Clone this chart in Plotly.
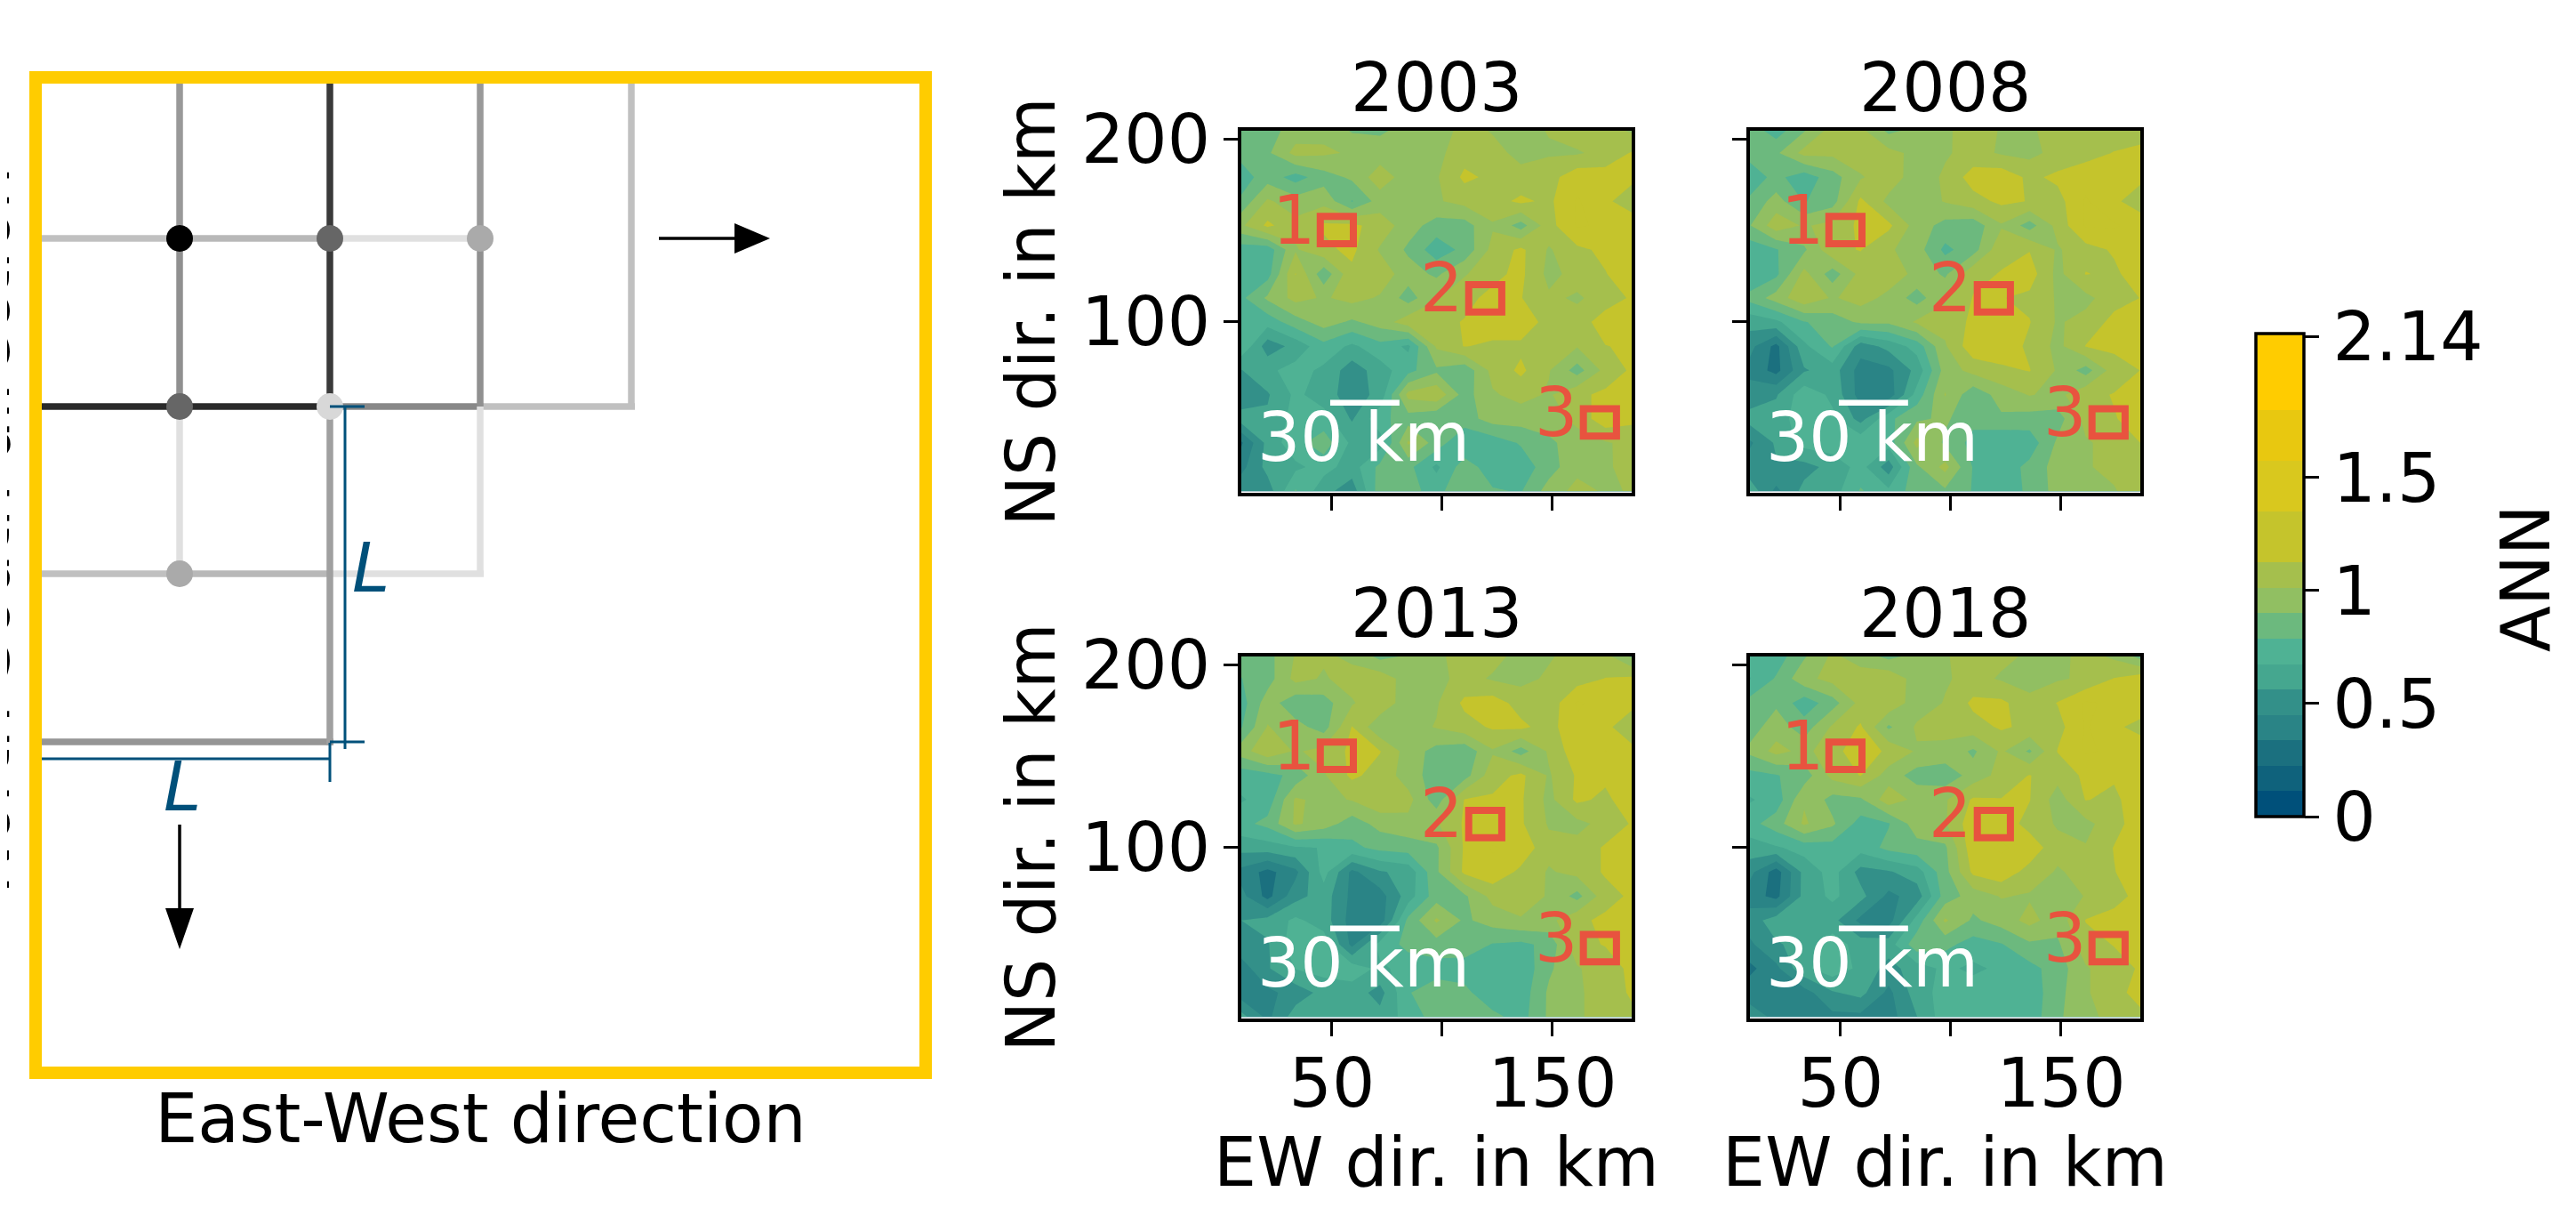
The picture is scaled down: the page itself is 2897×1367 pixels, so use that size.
import plotly.graph_objects as go
from plotly.subplots import make_subplots

W, H = 2897, 1367
FONT = "DejaVu Sans"
FS = 76
PAGE_MARGIN = 8  # the page body adds this much on the top and left

# EW and NS sample positions in km
x_km = [8.0, 20.8, 33.5, 46.3, 59.1, 71.8, 84.6, 97.4, 110.1, 122.9, 135.7, 148.4, 161.2, 174.0, 186.7]
y_km = [205.4, 192.2, 178.9, 165.7, 152.4, 139.2, 125.9, 112.7, 99.5, 86.2, 73.0, 59.7, 46.5, 33.3, 20.0, 6.8]

# ANN values, top row first
ann_2003 = [
    [.82, .85, .95, .98, .88, .88, .93, .95, 1.05, 1.0, .98, 1.02, 1.08, 1.05, .98],
    [.82, .88, 1.05, 1.03, 1.0, .95, .95, .98, 1.08, 1.05, .98, 1.0, 1.0, 1.05, 1.14],
    [.72, .85, .74, .85, .92, 1.08, .95, 1.0, 1.15, 1.1, 1.05, 1.08, 1.2, 1.18, 1.15],
    [.8, 1.03, .95, .98, .78, .95, .98, 1.0, 1.05, 1.08, 1.15, 1.1, 1.25, 1.15, 1.05],
    [.98, 1.15, 1.05, 1.14, 1.15, 1.08, .95, .85, .85, 1.0, .85, 1.08, 1.25, 1.22, 1.2],
    [.73, .72, 1.0, 1.1, 1.15, 1.0, .88, .72, .82, 1.05, 1.15, 1.0, 1.1, 1.15, 1.2],
    [.72, .74, 1.13, .82, 1.1, 1.08, .95, .88, 1.0, 1.1, 1.15, .98, 1.05, 1.12, 1.2],
    [.75, .92, 1.05, 1.0, 1.05, 1.0, .85, 1.0, 1.1, 1.15, 1.13, 1.03, 1.0, 1.05, 1.15],
    [.7, .72, .85, .95, .88, .95, 1.08, 1.1, 1.13, 1.2, 1.2, 1.08, 1.05, 1.2, 1.18],
    [.8, .5, .6, .75, .65, .75, .65, 1.03, 1.13, 1.1, 1.1, 1.05, 1.02, 1.12, 1.15],
    [.55, .65, .72, .65, .5, .62, .75, .88, .82, 1.05, 1.15, 1.02, .85, 1.05, 1.15],
    [.5, .55, .7, .62, .5, .6, 1.05, 1.1, .85, 1.0, 1.05, 1.0, 1.1, 1.15, 1.13],
    [.6, .58, .72, .72, .55, .75, .85, .8, .85, .95, .95, .95, 1.05, 1.2, 1.15],
    [.3, .6, .75, .85, .65, .62, 1.03, .85, .68, .72, .8, .88, .95, 1.0, 1.05],
    [.4, .6, .65, .72, .62, .82, .82, .65, .85, .72, .72, .85, .98, .98, 1.1],
    [.52, .5, .8, .6, .5, .85, .82, .75, .88, .8, .78, .95, 1.05, 1.0, 1.02],
]
ann_2008 = [
    [.85, .72, .88, 1.05, 1.03, .86, .92, .98, 1.1, 1.0, 1.0, 1.05, 1.1, 1.06, 1.0],
    [.82, .88, 1.05, 1.04, 1.08, 1.05, .98, 1.0, 1.05, 1.0, .98, 1.05, 1.08, 1.13, 1.2],
    [.72, .82, .72, .85, 1.0, 1.08, .95, 1.03, 1.18, 1.2, 1.1, 1.15, 1.2, 1.22, 1.15],
    [.8, .95, .78, .85, 1.15, .98, .95, 1.02, 1.08, 1.15, 1.12, 1.08, 1.25, 1.15, 1.05],
    [.88, 1.08, 1.0, 1.05, 1.15, 1.15, .96, .86, .83, 1.0, .85, 1.05, 1.25, 1.25, 1.2],
    [.72, .78, .88, 1.1, 1.13, 1.03, .95, .76, .85, 1.1, 1.12, 1.0, 1.08, 1.14, 1.2],
    [.68, .76, 1.05, .84, 1.05, 1.08, .98, .88, 1.1, 1.13, 1.18, .98, 1.13, 1.1, 1.2],
    [.82, .95, 1.1, 1.0, 1.06, .98, .85, 1.0, 1.13, 1.13, 1.1, 1.0, .98, 1.08, 1.13],
    [.6, .65, .78, .84, .92, .92, 1.03, 1.05, 1.15, 1.2, 1.13, 1.0, 1.05, 1.16, 1.18],
    [.5, .3, .65, .8, .5, .6, .72, 1.0, 1.2, 1.2, 1.1, .98, 1.13, 1.15, 1.15],
    [.42, .3, .55, .62, .4, .42, .6, .95, 1.05, 1.1, 1.13, 1.0, .85, 1.07, 1.13],
    [.5, .55, .75, .65, .4, .38, .72, 1.02, .82, .95, 1.02, .98, 1.1, 1.13, 1.15],
    [.6, .62, .74, .7, .52, .76, .88, .92, .82, .88, .85, .85, 1.05, 1.12, 1.16],
    [.42, .58, .72, .74, .76, .72, 1.05, .88, .75, .68, .72, .92, 1.0, 1.05, 1.13],
    [.5, .55, .52, .6, .72, .5, .88, 1.05, .78, .72, .82, .95, 1.0, 1.05, 1.13],
    [.65, .42, .6, .62, .8, .7, .85, .88, .78, .75, .8, .95, .98, 1.0, 1.1],
]
ann_2013 = [
    [.82, .86, 1.02, 1.03, .98, .85, .9, .98, 1.08, 1.05, .98, 1.0, 1.05, 1.03, .85],
    [.78, .85, 1.05, 1.0, 1.06, 1.08, .96, .98, 1.05, 1.0, .98, 1.03, 1.07, 1.13, 1.15],
    [.72, .96, .82, .85, 1.0, 1.1, .94, 1.0, 1.15, 1.18, 1.08, 1.05, 1.25, 1.2, 1.15],
    [.76, 1.02, .94, .85, 1.13, .92, .97, 1.02, 1.08, 1.14, 1.15, 1.08, 1.22, 1.15, 1.05],
    [.95, 1.1, 1.0, 1.05, 1.15, 1.13, .96, .86, .82, 1.0, .85, 1.03, 1.2, 1.24, 1.15],
    [.72, .75, .82, 1.0, 1.15, 1.08, .96, .84, .85, 1.08, 1.15, 1.0, 1.14, 1.15, 1.2],
    [.66, .72, 1.03, .98, 1.02, 1.1, 1.05, .84, 1.13, 1.14, 1.14, .98, 1.15, 1.1, 1.2],
    [.75, .82, 1.03, .96, .84, .94, .98, 1.0, 1.14, 1.13, 1.14, 1.0, .98, 1.05, 1.14],
    [.6, .62, .66, .68, .76, .82, .84, .88, 1.14, 1.25, 1.2, 1.05, 1.05, 1.14, 1.2],
    [.42, .3, .42, .72, .42, .55, .6, .88, 1.15, 1.2, 1.1, 1.0, 1.05, 1.14, 1.2],
    [.5, .3, .52, .62, .42, .4, .62, .85, .88, 1.05, 1.08, 1.0, .86, 1.08, 1.15],
    [.56, .6, .7, .62, .4, .38, .82, 1.03, .88, .95, 1.0, .98, 1.1, 1.15, 1.17],
    [.52, .55, .75, .74, .42, .72, .82, .85, .86, .78, .76, .82, 1.1, 1.13, 1.2],
    [.38, .55, .68, .72, .74, .65, .72, .74, .73, .7, .7, .88, 1.0, 1.08, 1.15],
    [.4, .42, .5, .6, .62, .52, .78, .85, .82, .7, .72, .92, 1.0, 1.05, 1.15],
    [.62, .42, .62, .66, .62, .6, .72, .84, .85, .82, .74, .92, 1.0, 1.05, 1.1],
]
ann_2018 = [
    [.72, .72, .88, 1.03, .94, .85, .92, 1.0, 1.08, 1.04, 1.0, .98, 1.05, .98, .82],
    [.66, .8, .98, 1.05, 1.08, 1.1, .96, 1.0, 1.05, 1.0, .96, 1.0, 1.03, 1.13, 1.2],
    [.82, .88, .72, .85, 1.05, 1.1, .95, 1.02, 1.15, 1.15, 1.05, 1.13, 1.25, 1.22, 1.2],
    [.84, .96, .84, 1.03, 1.14, .88, 1.03, 1.05, 1.08, 1.14, 1.1, 1.08, 1.25, 1.15, 1.08],
    [.92, 1.05, .98, 1.08, 1.2, 1.1, 1.0, .98, .88, 1.03, .88, 1.13, 1.25, 1.22, 1.2],
    [.75, .78, .84, 1.05, 1.13, .96, .85, .82, .95, 1.05, 1.13, 1.05, 1.15, 1.14, 1.22],
    [.66, .72, 1.0, .86, .88, 1.08, .98, 1.0, 1.14, 1.13, 1.13, .96, 1.13, 1.1, 1.2],
    [.74, .85, 1.03, .92, .74, .78, .96, 1.0, 1.2, 1.2, 1.08, 1.0, .98, 1.08, 1.2],
    [.62, .66, .72, .74, .72, .82, .86, .88, 1.2, 1.25, 1.2, 1.05, 1.02, 1.13, 1.2],
    [.5, .28, .6, .72, .52, .55, .62, .86, 1.15, 1.2, 1.08, 1.0, 1.05, 1.12, 1.2],
    [.4, .3, .6, .7, .6, .42, .5, .84, .95, 1.02, 1.0, .94, 1.02, 1.1, 1.15],
    [.5, .62, .66, .6, .42, .4, .72, 1.03, .88, .95, 1.05, .95, 1.13, 1.15, 1.15],
    [.42, .55, .6, .74, .62, .62, .86, .82, .74, .78, .88, .88, 1.08, 1.13, 1.15],
    [.3, .42, .65, .74, .65, .52, .62, .7, .65, .7, .75, .84, 1.0, 1.08, 1.14],
    [.4, .42, .4, .55, .6, .42, .62, .72, .74, .7, .72, .86, 1.0, 1.08, 1.18],
    [.52, .42, .4, .42, .42, .4, .56, .74, .76, .72, .72, .88, .98, 1.05, 1.1],
]
years = ["2003", "2008", "2013", "2018"]
maps = [ann_2003, ann_2008, ann_2013, ann_2018]

# colour steps of the bar: colour, number of 0.1125 wide levels it covers
band_colors = ["#00507a", "#0f627c", "#1b707f", "#2a8486", "#339089", "#45a78f", "#4fb294",
               "#6cb97e", "#91bf62", "#a5bf4d", "#c5c42c", "#d9c81e", "#e8c810", "#ffcc00"]
band_levels = [1, 1, 1, 1, 1, 1, 1, 1, 1, 1, 2, 2, 2, 3]
level_size = 0.1125
n_levels = sum(band_levels)

colorscale = []
done = 0
for c, n in zip(band_colors, band_levels):
    colorscale.append([done / n_levels, c])
    done += n
    colorscale.append([done / n_levels, c])

# numbered sites: centre in km
site_labels = ["1", "2", "3"]
site_x = [52.2, 119.5, 171.5]
site_y = [150.0, 112.5, 44.5]
site_half = 7.5
label_x = [32.7, 99.6, 151.6]
label_y = [155.6, 118.5, 50.2]
RED = "#e8533f"

# scale bar
bar_x = [49.2, 80.6]
bar_y = 55.3

# panel areas in page pixels, inside the frame lines: left, right, top, bottom
left_cols = [(1396, 1835), (1968, 2407)]
rows_px = [(147, 554), (738, 1145)]


def dom_x(a, b):
    return [(a - PAGE_MARGIN) / W, (b - PAGE_MARGIN) / W]


def dom_y(a, b):
    return [1 - (b - PAGE_MARGIN) / H, 1 - (a - PAGE_MARGIN) / H]


fig = make_subplots(rows=2, cols=2)

for i, (year, z) in enumerate(zip(years, maps)):
    r, c = i // 2 + 1, i % 2 + 1
    fig.add_trace(
        go.Contour(
            x=x_km,
            y=y_km[::-1],
            z=z[::-1],
            zmin=0,
            zmax=level_size * n_levels,
            autocontour=False,
            contours=dict(start=0, end=level_size * n_levels, size=level_size,
                          coloring="fill", showlines=False),
            line=dict(width=0, smoothing=0),
            colorscale=colorscale,
            showscale=(i == 0),
            colorbar=dict(
                x=(2537 - PAGE_MARGIN) / W, xanchor="left",
                y=1 - (375 - PAGE_MARGIN) / H, yanchor="top",
                xpad=0, ypad=0,
                thicknessmode="pixels", thickness=54,
                lenmode="pixels", len=543,
                outlinecolor="black", outlinewidth=3.5,
                tickmode="array",
                tickvals=[0, 0.5, 1, 1.5, 2.125],
                ticktext=["0", "0.5", "1", "1.5", "2.14"],
                ticks="outside", ticklen=16, tickwidth=3, tickcolor="black",
                tickfont=dict(family=FONT, size=FS, color="black"),
            ),
        ),
        row=r, col=c,
    )

    xname = "x" if i == 0 else f"x{i + 1}"
    yname = "y" if i == 0 else f"y{i + 1}"

    # site boxes and scale bar
    for sx, sy in zip(site_x, site_y):
        fig.add_shape(type="rect", xref=xname, yref=yname,
                      x0=sx - site_half, x1=sx + site_half,
                      y0=sy - site_half, y1=sy + site_half,
                      line=dict(color=RED, width=8))
    fig.add_shape(type="line", xref=xname, yref=yname,
                  x0=bar_x[0], x1=bar_x[1], y0=bar_y, y1=bar_y,
                  line=dict(color="white", width=6.5))

    for t, lx, ly in zip(site_labels, label_x, label_y):
        fig.add_annotation(xref=xname, yref=yname, x=lx, y=ly, text=t, showarrow=False,
                           font=dict(family=FONT, size=FS, color=RED))
    fig.add_annotation(xref=xname, yref=yname, x=64.5, y=36.6, text="30 km", showarrow=False,
                       font=dict(family=FONT, size=FS, color="white"))

    # year above the panel
    fig.add_annotation(xref=xname + " domain", yref=yname + " domain", x=0.5, y=1,
                       yanchor="bottom", yshift=2, text=year, showarrow=False,
                       font=dict(family=FONT, size=FS, color="black"))

    fig.update_xaxes(
        domain=dom_x(*left_cols[c - 1]), range=[8.9, 185.9], automargin=False,
        tickmode="array", tickvals=[50, 100, 150],
        ticktext=["50", "", "150"] if r == 2 else ["", "", ""],
        ticks="outside", ticklen=16, tickwidth=3, tickcolor="black",
        tickfont=dict(family=FONT, size=FS, color="black"),
        ticklabelstandoff=-12,
        showgrid=False, zeroline=False, showline=True, mirror=True,
        linecolor="black", linewidth=3.5,
        title=dict(text="EW dir. in km" if r == 2 else "",
                   font=dict(family=FONT, size=FS, color="black"), standoff=0),
        row=r, col=c,
    )
    fig.update_yaxes(
        domain=dom_y(*rows_px[r - 1]), range=[5.9, 204.4], automargin=False,
        tickmode="array", tickvals=[100, 200],
        ticktext=["100", "200"] if c == 1 else ["", ""],
        ticks="outside", ticklen=16, tickwidth=3, tickcolor="black",
        tickfont=dict(family=FONT, size=FS, color="black"),
        showgrid=False, zeroline=False, showline=True, mirror=True,
        linecolor="black", linewidth=3.5,
        title=dict(text="NS dir. in km" if c == 1 else "",
                   font=dict(family=FONT, size=FS, color="black"), standoff=5),
        row=r, col=c,
    )

# schematic of the gliding windows, in page pixels from the box corner
seg_h = [
    (181, 7, 162, "#c0c0c0"), (181, 162, 331, "#b8b8b8"), (181, 331, 500, "#e0e0e0"),
    (370, 7, 162, "#2a2a2a"), (370, 162, 331, "#2a2a2a"), (370, 331, 500, "#888888"), (370, 500, 674, "#c0c0c0"),
    (558, 7, 162, "#c0c0c0"), (558, 162, 331, "#b8b8b8"), (558, 331, 504, "#e0e0e0"),
    (747, 7, 335, "#959595"),
]
seg_v = [
    (162, 7, 181, "#999999"), (162, 181, 370, "#909090"), (162, 370, 558, "#e0e0e0"),
    (331, 7, 181, "#3a3a3a"), (331, 181, 370, "#3a3a3a"), (331, 370, 751, "#a0a0a0"),
    (500, 7, 181, "#999999"), (500, 181, 370, "#909090"), (500, 370, 558, "#e0e0e0"),
    (670, 7, 370, "#c0c0c0"),
]
dot_x = [162, 331, 500, 162, 331, 162]
dot_y = [181, 181, 181, 370, 370, 558]
dot_colors = ["#000000", "#666666", "#aaaaaa", "#666666", "#d8d8d8", "#aaaaaa"]

arrow_right_x = [786, 786, 826, 786]
arrow_right_y = [164, 198, 181, 164]
arrow_down_x = [146, 178, 162, 146]
arrow_down_y = [934, 934, 980, 934]

BLUE = "#00507a"
dim_x = [348, 348, None, 331, 370, None, 331, 370, None, 0, 331, None, 0, 0, None, 331, 331]
dim_y = [370, 755, None, 370, 370, None, 747, 747, None, 766, 766, None, 746, 792, None, 748, 792]

SX, SY = "x5", "y5"
for y, a, b, col in seg_h:
    fig.add_trace(go.Scatter(x=[a, b], y=[y, y], mode="lines", line=dict(color=col, width=7.5),
                             xaxis=SX, yaxis=SY, showlegend=False, hoverinfo="skip"))
for x, a, b, col in seg_v:
    fig.add_trace(go.Scatter(x=[x, x], y=[a, b], mode="lines", line=dict(color=col, width=7.5),
                             xaxis=SX, yaxis=SY, showlegend=False, hoverinfo="skip"))
fig.add_trace(go.Scatter(x=dot_x, y=dot_y, mode="markers",
                         marker=dict(size=30, color=dot_colors, line=dict(width=0)),
                         xaxis=SX, yaxis=SY, showlegend=False, hoverinfo="skip"))

# black arrows
fig.add_trace(go.Scatter(x=[701, 790], y=[181, 181], mode="lines", line=dict(color="black", width=3.5),
                         xaxis=SX, yaxis=SY, showlegend=False, hoverinfo="skip"))
fig.add_trace(go.Scatter(x=[162, 162], y=[840, 938], mode="lines", line=dict(color="black", width=3.5),
                         xaxis=SX, yaxis=SY, showlegend=False, hoverinfo="skip"))
for ax, ay in [(arrow_right_x, arrow_right_y), (arrow_down_x, arrow_down_y)]:
    fig.add_trace(go.Scatter(x=ax, y=ay, mode="lines", fill="toself", fillcolor="black",
                             line=dict(color="black", width=0),
                             xaxis=SX, yaxis=SY, showlegend=False, hoverinfo="skip"))

# blue dimension lines
fig.add_trace(go.Scatter(x=dim_x, y=dim_y, mode="lines", line=dict(color=BLUE, width=3),
                         xaxis=SX, yaxis=SY, showlegend=False, hoverinfo="skip", cliponaxis=False))
fig.add_annotation(xref=SX, yref=SY, x=377, y=551, text="<i>L</i>", showarrow=False,
                   font=dict(family=FONT, size=FS, color=BLUE))
fig.add_annotation(xref=SX, yref=SY, x=165, y=797, text="<i>L</i>", showarrow=False,
                   font=dict(family=FONT, size=FS, color=BLUE))

fig.update_layout(
    xaxis5=dict(domain=dom_x(47, 1034), range=[7, 994], anchor="y5", layer="below traces", automargin=False,
                showline=True, mirror=True, linecolor="#ffcc00", linewidth=14,
                showgrid=False, zeroline=False, showticklabels=False, ticks="",
                title=dict(text="East-West direction", standoff=25,
                           font=dict(family=FONT, size=FS, color="black"))),
    yaxis5=dict(domain=dom_y(94, 1199), range=[1112, 7], anchor="x5", layer="below traces", automargin=False,
                showline=True, mirror=True, linecolor="#ffcc00", linewidth=14,
                showgrid=False, zeroline=False, showticklabels=False, ticks=""),
    width=W, height=H,
    margin=dict(l=0, r=0, t=0, b=0),
    paper_bgcolor="white",
    plot_bgcolor="white",
    showlegend=False,
    font=dict(family=FONT, color="black"),
)

# colorbar label and the y label cut off by the page edge
fig.add_annotation(xref="paper", yref="paper", x=(2840 - PAGE_MARGIN) / W, y=1 - (650 - PAGE_MARGIN) / H,
                   xanchor="center", yanchor="middle", text="ANN", textangle=-90,
                   showarrow=False, font=dict(family=FONT, size=FS, color="black"))
fig.add_annotation(xref="paper", yref="paper", x=0, y=1 - (597 - PAGE_MARGIN) / H, xanchor="right", xshift=21,
                   text="North-South direction", textangle=-90,
                   showarrow=False, font=dict(family=FONT, size=FS, color="black"))

fig.write_html("out.html")
